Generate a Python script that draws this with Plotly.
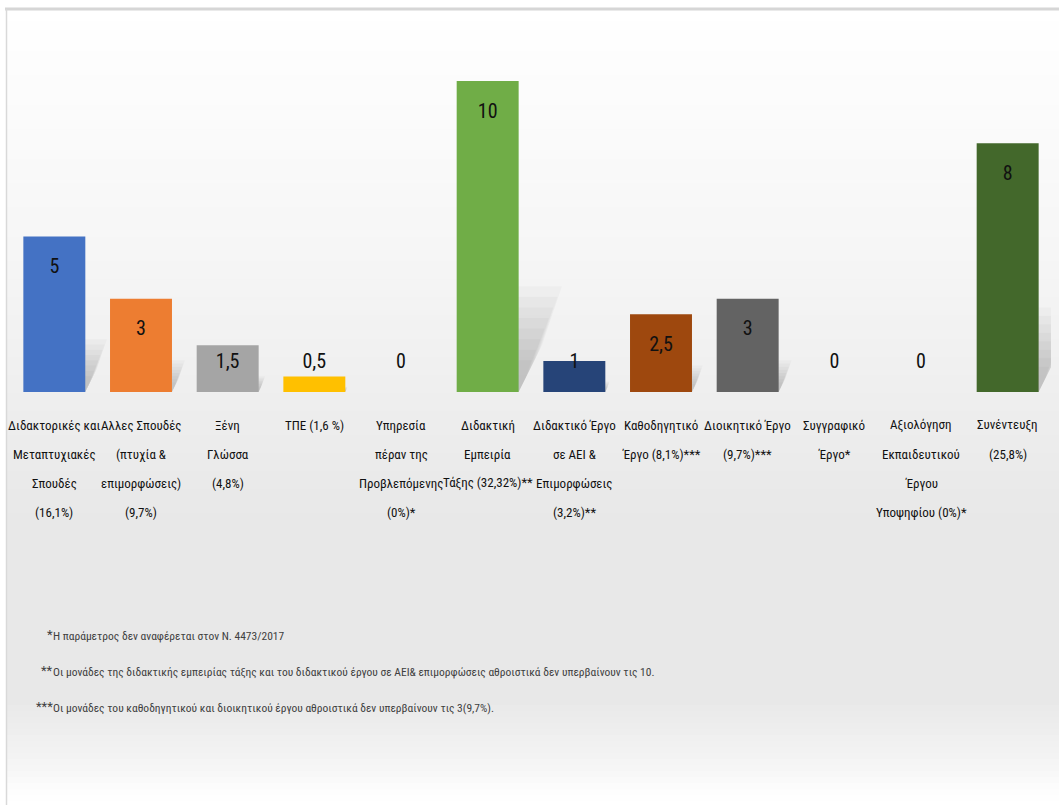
import numpy as np
import plotly.graph_objects as go

# ---------------- data ----------------
categories = [
    "Διδακτορικές και\nΜεταπτυχιακές\nΣπουδές\n(16,1%)",
    "Αλλες Σπουδές\n(πτυχία &\nεπιμορφώσεις)\n(9,7%)",
    "Ξένη\nΓλώσσα\n(4,8%)",
    "ΤΠΕ (1,6 %)",
    "Υπηρεσία\nπέραν της\nΠροβλεπόμενης\n(0%)*",
    "Διδακτική\nΕμπειρία\nΤάξης (32,32%)**",
    "Διδακτικό Έργο\nσε ΑΕΙ &\nΕπιμορφώσεις\n(3,2%)**",
    "Καθοδηγητικό\nΈργο (8,1%)***",
    "Διοικητικό Έργο\n(9,7%)***",
    "Συγγραφικό\nΈργο*",
    "Αξιολόγηση\nΕκπαιδευτικού\nΈργου\nΥποψηφίου (0%)*",
    "Συνέντευξη\n(25,8%)",
]
values = [5, 3, 1.5, 0.5, 0, 10, 1, 2.5, 3, 0, 0, 8]
value_labels = ["5", "3", "1,5", "0,5", "0", "10", "1", "2,5", "3", "0", "0", "8"]
bar_colors = ["#4472C4", "#ED7D31", "#A5A5A5", "#FFC000", "#5B9BD5", "#70AD47",
              "#264478", "#9E480E", "#636363", "#997300", "#255E91", "#43682B"]

footnote_marks = ["*", "**", "***"]
footnote_texts = [
    "Η παράμετρος δεν αναφέρεται στον Ν. 4473/2017",
    "Οι μονάδες της διδακτικής εμπειρίας τάξης και του διδακτικού έργου σε ΑΕΙ& επιμορφώσεις αθροιστικά δεν υπερβαίνουν τις 10.",
    "Οι μονάδες του καθοδηγητικού και διοικητικού έργου αθροιστικά δεν υπερβαίνουν τις 3(9,7%).",
]

# ---------------- layout constants ----------------
W, H = 1059, 805
ML, MR, MT, MB = 11, 8, 50, 413
PW, PH = W - ML - MR, H - MT - MB
YMAX = 11
FONT = "Roboto Condensed, DejaVu Sans Condensed, sans-serif"

def px_to_paper_x(px):
    return (px - ML) / PW

def px_to_paper_y(py):
    return (H - MB - py) / PH

x_idx = np.arange(len(values))
vals = np.array(values, dtype=float)

fig = go.Figure()

# soft shadows to the right of each bar (derived from the bar values)
half_w = 0.357
for i, v in enumerate(vals):
    if v <= 0:
        continue
    xr = i + half_w
    hs = 0.34 * v
    s = 0.05 * v
    for k in np.linspace(1.0, 0.3, 8):
        fig.add_trace(go.Scatter(
            x=[xr, xr + s * k, xr + s * 0.55 * k, xr, xr],
            y=[hs * k, hs * k, 0.45 * hs * k, 0, hs * k],
            fill="toself", mode="none",
            fillcolor="rgba(0,0,0,0.022)",
            hoverinfo="skip", showlegend=False,
        ))

fig.add_trace(go.Bar(
    x=x_idx, y=vals,
    marker=dict(color=bar_colors, line=dict(width=0)),
    width=0.715,
    hoverinfo="skip", showlegend=False,
))

# value labels near the top of each bar
label_y = np.maximum(vals - 1.02, 0.93)
fig.add_trace(go.Scatter(
    x=x_idx, y=label_y, mode="text",
    text=value_labels,
    textfont=dict(family=FONT, size=20, color="#111111"),
    hoverinfo="skip", showlegend=False,
))

# background gradient strips
stops = [(9, (255, 255, 255)), (250, (246, 246, 246)), (520, (232, 232, 232)),
         (700, (232, 232, 232)), (760, (244, 244, 244)), (790, (253, 253, 253)), (805, (255, 255, 255))]
shapes = []
ys = np.arange(9, 805, 6)
sy = [s[0] for s in stops]
for y0 in ys:
    y1 = min(y0 + 6, 805)
    ym = (y0 + y1) / 2
    c = [int(round(np.interp(ym, sy, [s[1][k] for s in stops]))) for k in range(3)]
    shapes.append(dict(type="rect", xref="paper", yref="paper", layer="below",
                       x0=px_to_paper_x(6), x1=px_to_paper_x(W + 2),
                       y0=px_to_paper_y(y1), y1=px_to_paper_y(y0),
                       fillcolor=f"rgb({c[0]},{c[1]},{c[2]})", line=dict(width=0)))
# frame lines (top and left)
shapes.append(dict(type="line", xref="paper", yref="paper",
                   x0=px_to_paper_x(5), x1=px_to_paper_x(W + 2),
                   y0=px_to_paper_y(9), y1=px_to_paper_y(9),
                   line=dict(color="#d6d6d6", width=3)))
shapes.append(dict(type="line", xref="paper", yref="paper",
                   x0=px_to_paper_x(6.5), x1=px_to_paper_x(6.5),
                   y0=px_to_paper_y(9), y1=px_to_paper_y(H + 2),
                   line=dict(color="#d9d9d9", width=1.5)))

annotations = []
# category labels, one annotation per line
for i, cat in enumerate(categories):
    for j, line in enumerate(cat.split("\n")):
        annotations.append(dict(
            x=i, y=0, xref="x", yref="paper", text=line, showarrow=False,
            xanchor="center", yanchor="middle", yshift=-(33 + 29 * j),
            font=dict(family=FONT, size=13, color="#111111"),
        ))

# footnotes
for k, (m, t) in enumerate(zip(footnote_marks, footnote_texts)):
    yy = px_to_paper_y(636 + 36 * k)
    annotations.append(dict(x=px_to_paper_x(51), y=yy, xref="paper", yref="paper",
                            text=m, showarrow=False, xanchor="right", yanchor="middle",
                            yshift=2, xshift=4, font=dict(family=FONT, size=13, color="#404040")))
    annotations.append(dict(x=px_to_paper_x(51), y=yy, xref="paper", yref="paper",
                            text=t, showarrow=False, xanchor="left", yanchor="middle",
                            font=dict(family=FONT, size=11.5, color="#404040")))

fig.update_layout(
    width=W, height=H,
    margin=dict(l=ML, r=MR, t=MT, b=MB, pad=0),
    paper_bgcolor="white", plot_bgcolor="rgba(0,0,0,0)",
    bargap=0.285,
    xaxis=dict(range=[-0.5, len(values) - 0.5], showticklabels=False, showgrid=False,
               zeroline=False, showline=False, ticks=""),
    yaxis=dict(range=[0, YMAX], showticklabels=False, showgrid=False,
               zeroline=False, showline=False, ticks=""),
    shapes=shapes, annotations=annotations,
)

fig.write_html("out.html", config={"displayModeBar": False},
               post_script="document.body.style.margin='0px';")
